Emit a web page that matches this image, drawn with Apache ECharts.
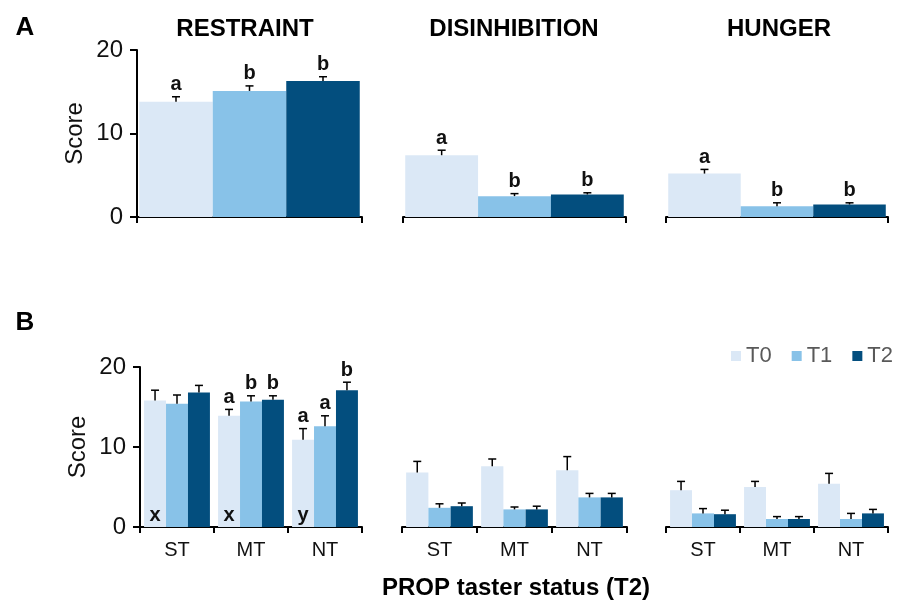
<!DOCTYPE html>
<html>
<head>
<meta charset="utf-8">
<script src="https://cdn.jsdelivr.net/npm/echarts@6/dist/echarts.min.js"></script>
<style>html,body{margin:0;padding:0;background:#fff}#c{width:909px;height:604px}</style>
</head>
<body>
<div id="c"></div>
<script>
// ---------- data ----------
const timepoints = ['T0', 'T1', 'T2'];
const groups = ['ST', 'MT', 'NT'];
const panelTitles = ['RESTRAINT', 'DISINHIBITION', 'HUNGER'];
const yTicks = [0, 10, 20];

// Panel A: overall means by timepoint (T0, T1, T2)
const restraintA = [13.8, 15.1, 16.3];
const restraintAErr = [0.6, 0.6, 0.5];
const restraintALetters = ['a', 'b', 'b'];
const disinhibitionA = [7.4, 2.5, 2.7];
const disinhibitionAErr = [0.6, 0.3, 0.2];
const disinhibitionALetters = ['a', 'b', 'b'];
const hungerA = [5.2, 1.3, 1.5];
const hungerAErr = [0.5, 0.4, 0.2];
const hungerALetters = ['a', 'b', 'b'];

// Panel B: by PROP group (ST, MT, NT), one array per timepoint
const restraintB_T0 = [15.8, 13.9, 10.9];
const restraintB_T1 = [15.4, 15.7, 12.6];
const restraintB_T2 = [16.8, 15.9, 17.1];
const restraintB_T0Err = [1.3, 0.8, 1.4];
const restraintB_T1Err = [1.1, 0.7, 1.3];
const restraintB_T2Err = [0.9, 0.5, 1.0];
const restraintB_T0Letters = ['', 'a', 'a'];
const restraintB_T1Letters = ['', 'b', 'a'];
const restraintB_T2Letters = ['', 'b', 'b'];
const restraintB_GroupLetters = ['x', 'x', 'y'];

const disinhibitionB_T0 = [6.8, 7.6, 7.1];
const disinhibitionB_T1 = [2.4, 2.2, 3.7];
const disinhibitionB_T2 = [2.6, 2.2, 3.7];
const disinhibitionB_T0Err = [1.4, 0.9, 1.7];
const disinhibitionB_T1Err = [0.5, 0.3, 0.5];
const disinhibitionB_T2Err = [0.4, 0.4, 0.5];

const hungerB_T0 = [4.6, 5.0, 5.4];
const hungerB_T1 = [1.7, 1.0, 1.0];
const hungerB_T2 = [1.6, 1.0, 1.7];
const hungerB_T0Err = [1.1, 0.7, 1.3];
const hungerB_T1Err = [0.6, 0.3, 0.7];
const hungerB_T2Err = [0.5, 0.3, 0.5];

// ---------- styling ----------
const colors = ['#dbe8f6', '#88c2e8', '#034e7e'];
const FONT = '"Liberation Sans", Arial, sans-serif';

const grids = [
  {left: 137, width: 225, top: 50, height: 167},
  {left: 403, width: 223, top: 50, height: 167},
  {left: 666, width: 222, top: 50, height: 167},
  {left: 140, width: 222, top: 367, height: 160},
  {left: 402, width: 225, top: 367, height: 160},
  {left: 666, width: 222, top: 367, height: 160}
];

const xAxes = grids.map((g, i) => ({
  type: 'category',
  gridIndex: i,
  data: i < 3 ? ['All'] : groups,
  boundaryGap: true,
  axisLine: {show: true, lineStyle: {color: '#000', width: 2}},
  axisTick: {show: true, length: 6, lineStyle: {color: '#000', width: 2}},
  axisLabel: {show: i >= 3, fontSize: 20, color: '#111', margin: 13, fontFamily: FONT},
  splitLine: {show: false}
}));

const yAxes = grids.map((g, i) => ({
  type: 'value',
  gridIndex: i,
  min: yTicks[0], max: yTicks[yTicks.length - 1], interval: 10,
  show: (i === 0 || i === 3),
  name: 'Score',
  nameLocation: 'middle',
  nameGap: 50,
  nameRotate: 90,
  nameTextStyle: {fontSize: 24, color: '#111', fontFamily: FONT},
  axisLine: {show: true, lineStyle: {color: '#000', width: 2}},
  axisTick: {show: true, length: 7, lineStyle: {color: '#000', width: 2}},
  axisLabel: {fontSize: 24, color: '#111', margin: 14, fontFamily: FONT},
  splitLine: {show: false}
}));

const series = [];

function addPanel(gridIdx, valueSets, errSets, letterSets, gapFrac, groupLetters) {
  valueSets.forEach((vals, s) => {
    series.push({
      type: 'bar',
      name: timepoints[s],
      xAxisIndex: gridIdx, yAxisIndex: gridIdx,
      data: vals,
      barGap: '0%',
      barCategoryGap: (gapFrac * 100) + '%',
      itemStyle: {color: colors[s]},
      animation: false
    });
  });
  valueSets.forEach((vals, s) => {
    const errs = errSets[s];
    const letters = letterSets ? letterSets[s] : null;
    series.push({
      type: 'custom',
      name: timepoints[s] + ' error',
      xAxisIndex: gridIdx, yAxisIndex: gridIdx,
      data: vals.map((v, k) => [k, v, errs[k]]),
      z: 5,
      animation: false,
      renderItem: function (params, api) {
        const cat = api.value(0), v = api.value(1), e = api.value(2);
        const pTop = api.coord([cat, v]);
        const pErr = api.coord([cat, v + e]);
        const pBase = api.coord([cat, 0]);
        const cw = api.size([1, 0])[0];
        const gw = cw * (1 - gapFrac);
        const bw = gw / 3;
        const x = pTop[0] - gw / 2 + bw * (s + 0.5);
        const children = [
          {type: 'line', shape: {x1: x, y1: pTop[1], x2: x, y2: pErr[1]}, style: {stroke: '#000', lineWidth: 1.5}},
          {type: 'line', shape: {x1: x - 4, y1: pErr[1], x2: x + 4, y2: pErr[1]}, style: {stroke: '#000', lineWidth: 1.5}}
        ];
        const lt = letters ? letters[params.dataIndex] : '';
        if (lt) {
          children.push({type: 'text', x: x, y: pErr[1] - 2,
            style: {text: lt, font: 'bold 20px ' + FONT, fill: '#111', textAlign: 'center', textVerticalAlign: 'bottom'}});
        }
        if (groupLetters && s === 0) {
          children.push({type: 'text', x: x, y: pBase[1] - 12,
            style: {text: groupLetters[params.dataIndex], font: 'bold 20px ' + FONT, fill: '#111', textAlign: 'center', textVerticalAlign: 'middle'}});
        }
        return {type: 'group', children: children};
      }
    });
  });
}

// Panel A (one category per panel, value per timepoint)
addPanel(0, restraintA.map(v => [v]), restraintAErr.map(v => [v]), restraintALetters.map(v => [v]), 0.02);
addPanel(1, disinhibitionA.map(v => [v]), disinhibitionAErr.map(v => [v]), disinhibitionALetters.map(v => [v]), 0.02);
addPanel(2, hungerA.map(v => [v]), hungerAErr.map(v => [v]), hungerALetters.map(v => [v]), 0.02);

// Panel B
addPanel(3, [restraintB_T0, restraintB_T1, restraintB_T2],
  [restraintB_T0Err, restraintB_T1Err, restraintB_T2Err],
  [restraintB_T0Letters, restraintB_T1Letters, restraintB_T2Letters], 0.11, restraintB_GroupLetters);
addPanel(4, [disinhibitionB_T0, disinhibitionB_T1, disinhibitionB_T2],
  [disinhibitionB_T0Err, disinhibitionB_T1Err, disinhibitionB_T2Err], null, 0.11);
addPanel(5, [hungerB_T0, hungerB_T1, hungerB_T2],
  [hungerB_T0Err, hungerB_T1Err, hungerB_T2Err], null, 0.11);

const titleCenters = [245, 514, 779];

const option = {
  backgroundColor: '#fff',
  animation: false,
  textStyle: {fontFamily: FONT},
  grid: grids,
  xAxis: xAxes,
  yAxis: yAxes,
  series: series,
  legend: {
    data: timepoints,
    left: 726, top: 340,
    icon: 'rect',
    itemWidth: 10, itemHeight: 10,
    itemGap: 20,
    textStyle: {fontSize: 22, color: '#595959', fontFamily: FONT}
  },
  graphic: [
    {type: 'text', x: 25, y: 28, style: {text: 'A', font: 'bold 26px ' + FONT, fill: '#000', textAlign: 'center', textVerticalAlign: 'middle'}},
    {type: 'text', x: 25, y: 323, style: {text: 'B', font: 'bold 26px ' + FONT, fill: '#000', textAlign: 'center', textVerticalAlign: 'middle'}},
    ...panelTitles.map((t, i) => ({type: 'text', x: titleCenters[i], y: 29,
      style: {text: t, font: 'bold 24px ' + FONT, fill: '#000', textAlign: 'center', textVerticalAlign: 'middle'}})),
    {type: 'text', x: 516, y: 588, style: {text: 'PROP taster status (T2)', font: 'bold 24px ' + FONT, fill: '#000', textAlign: 'center', textVerticalAlign: 'middle'}}
  ]
};

const chart = echarts.init(document.getElementById('c'), null, {renderer: 'canvas'});
chart.setOption(option);
</script>
</body>
</html>
